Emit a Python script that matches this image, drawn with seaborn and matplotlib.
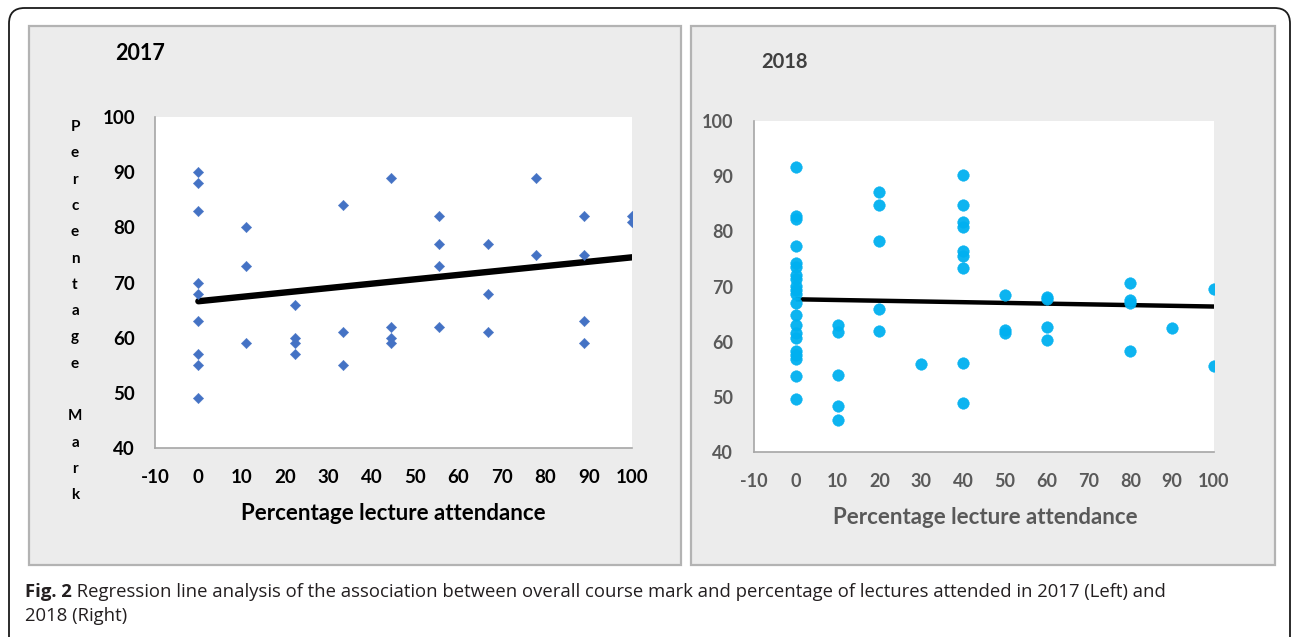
import matplotlib
matplotlib.use("Agg")
import matplotlib.pyplot as plt
import seaborn as sns
import pandas as pd
from matplotlib.patches import Rectangle, FancyBboxPatch

# ---------------- data ----------------
x2017 = [0]*9 + [11.1]*3 + [22.2]*4 + [33.3]*3 + [44.4]*4 + [55.6]*4 + [66.7]*3 + [77.8]*2 + [88.9]*4 + [100]*2
y2017 = [90, 88, 83, 70, 68, 63, 57, 55, 49,
         80, 73, 59,
         66, 60, 59, 57,
         84, 61, 55,
         89, 62, 60, 59,
         82, 77, 73, 62,
         77, 68, 61,
         89, 75,
         82, 75, 63, 59,
         82, 81]

x2018 = [0]*21 + [10]*5 + [20]*5 + [30] + [40]*9 + [50]*3 + [60]*4 + [80]*4 + [90] + [100]*2
y2018 = [91.6, 82.8, 82.2, 77.4, 74.3, 73.5, 72.0, 71.3, 70.0, 69.3, 68.6, 67.0,
         64.9, 63.0, 61.5, 60.6, 58.3, 57.6, 56.8, 53.8, 49.6,
         63.1, 61.7, 53.9, 48.4, 45.8,
         87.1, 84.7, 78.3, 65.9, 61.9,
         55.9,
         90.2, 84.8, 81.7, 80.7, 76.4, 75.6, 73.3, 56.2, 48.8,
         68.4, 62.2, 61.5,
         68.1, 67.7, 62.7, 60.3,
         70.6, 67.5, 67.0, 58.3,
         62.4,
         69.6, 55.5]

xticks = list(range(-10, 101, 10))
yticks = list(range(40, 101, 10))
xlabel = "Percentage lecture attendance"
ylabel_2017 = "Percentage Mark"
caption_bold = "Fig. 2"
caption_rest_1 = " Regression line analysis of the association between overall course mark and percentage of lectures attended in 2017 (Left) and"
caption_line_2 = "2018 (Right)"

df17 = pd.DataFrame({"x": x2017, "y": y2017})
df18 = pd.DataFrame({"x": x2018, "y": y2018})

# ---------------- figure ----------------
sns.set_style("white")
plt.rcParams["font.family"] = ["Lato", "DejaVu Sans"]
plt.rcParams["axes.unicode_minus"] = False

W, H = 1292, 637
fig = plt.figure(figsize=(W/100, H/100), dpi=100)
fig.patch.set_facecolor("white")

def fx(px):
    return px / W

def fy(py):
    return 1 - py / H

# outer rounded border
outer = FancyBboxPatch((fx(9), fy(700)), fx(1290) - fx(9), fy(8) - fy(700),
                       boxstyle="round,pad=0,rounding_size=0.012",
                       transform=fig.transFigure, facecolor="none",
                       edgecolor="#1a1a1a", linewidth=1.3, zorder=-2,
                       mutation_aspect=W/H)
fig.patches.append(outer)

# panel backgrounds
for (x0, x1) in [(29, 681), (691, 1275)]:
    r = Rectangle((fx(x0), fy(565)), fx(x1) - fx(x0), fy(26) - fy(565),
                  transform=fig.transFigure, facecolor="#ececec",
                  edgecolor="#b3b3b3", linewidth=1.6, zorder=-1)
    fig.patches.append(r)

# axes
ax1 = fig.add_axes([fx(155), fy(448), fx(632) - fx(155), fy(117) - fy(448)])
ax2 = fig.add_axes([fx(754), fy(452), fx(1214) - fx(754), fy(121) - fy(452)])

# left chart (2017)
sns.scatterplot(data=df17, x="x", y="y", ax=ax1, marker="D", s=28,
                color="#4472c4", edgecolor="#4472c4", linewidth=0.3, zorder=3)
sns.regplot(data=df17, x="x", y="y", ax=ax1, scatter=False, ci=None,
            truncate=True, color="black", line_kws={"linewidth": 4.6, "solid_capstyle": "round"})

# right chart (2018)
sns.scatterplot(data=df18, x="x", y="y", ax=ax2, marker="o", s=70,
                color="#00b0f0", edgecolor="#00b0f0", linewidth=0.3, alpha=0.95, zorder=3)
sns.regplot(data=df18, x="x", y="y", ax=ax2, scatter=False, ci=None,
            truncate=True, color="black", line_kws={"linewidth": 3.2, "solid_capstyle": "butt"})

for ax, tcol, tsize, ypad in [(ax1, "black", 13.5, 9.4), (ax2, "#595959", 13.0, 10.0)]:
    ax.set_xlim(-10, 100)
    ax.set_ylim(40, 100)
    ax.set_xticks(xticks)
    ax.set_yticks(yticks)
    ax.set_facecolor("white")
    for s in ["top", "right"]:
        ax.spines[s].set_visible(False)
    for s in ["left", "bottom"]:
        ax.spines[s].set_color("#a6a6a6")
        ax.spines[s].set_linewidth(1.2)
    ax.tick_params(axis="both", which="major", direction="out", length=5, width=1.2,
                   color="#a6a6a6", labelsize=tsize, labelcolor=tcol)
    ax.tick_params(axis="x", pad=10)
    ax.tick_params(axis="y", pad=ypad)
    for lab in ax.get_xticklabels() + ax.get_yticklabels():
        lab.set_fontweight("bold")
    ax.set_xlabel("")
    ax.set_ylabel("")
    ax.grid(False)

# titles
fig.text(fx(140), fy(53), "2017", ha="center", va="center", fontsize=15.5,
         fontweight="bold", color="black")
fig.text(fx(784), fy(62), "2018", ha="center", va="center", fontsize=14.5,
         fontweight="bold", color="#404040")

# x labels
fig.text(fx(393), fy(514), xlabel, ha="center", va="center", fontsize=16,
         fontweight="bold", color="black")
fig.text(fx(985), fy(518), xlabel, ha="center", va="center", fontsize=16,
         fontweight="bold", color="#595959")

# stacked y label (2017)
letters = list(ylabel_2017)
for i, ch in enumerate(letters):
    if ch == " ":
        continue
    fig.text(fx(75), fy(127 + i * 26.3), ch, ha="center", va="center",
             fontsize=11, fontweight="bold", color="black")

# caption
cap_font = ["Open Sans", "DejaVu Sans"]
cap_size = 13.3
t_bold = fig.text(fx(25), fy(592), caption_bold, ha="left", va="center",
                  fontsize=cap_size, fontweight="bold", color="#231f20", family=cap_font)
fig.canvas.draw()
bb = t_bold.get_window_extent(renderer=fig.canvas.get_renderer())
fig.text(bb.x1 / W, fy(592), caption_rest_1, ha="left", va="center",
         fontsize=cap_size, color="#231f20", family=cap_font)
fig.text(fx(25), fy(616), caption_line_2, ha="left", va="center",
         fontsize=cap_size, color="#231f20", family=cap_font)

fig.savefig("out.png", dpi=100)
